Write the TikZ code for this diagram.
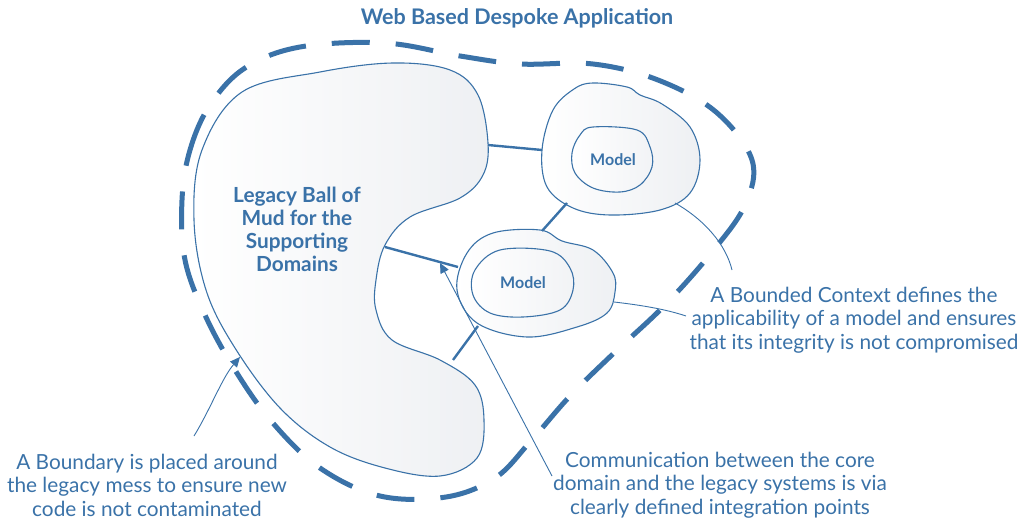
\documentclass[tikz,border=0pt]{standalone}
\usepackage{fontspec}
\setmainfont{Lato}
\usetikzlibrary{arrows.meta}
\definecolor{dblue}{HTML}{3A72A8}
\definecolor{fillr}{HTML}{EEF0F3}
\tikzset{
  blob/.style={draw=dblue, line width=1.1pt, left color=white, right color=fillr},
  inner/.style={draw=dblue, line width=1.1pt, left color=white, right color=fillr!80!white},
  boundary/.style={draw=dblue, line width=5pt, dash pattern=on 38pt off 26pt},
  link/.style={draw=dblue, line width=2.4pt},
  pointer/.style={draw=dblue, line width=0.9pt},
  tip/.style={-{Triangle[length=10pt,width=9pt]}},
  note/.style={text=dblue, align=center, font=\fontsize{20.8}{23.5}\selectfont},
  heading/.style={text=dblue, font=\bfseries\fontsize{21.5}{24}\selectfont},
  blobtext/.style={text=dblue, align=center, font=\bfseries\fontsize{20.8}{23}\selectfont},
  modeltext/.style={text=dblue, font=\bfseries\fontsize{16}{18}\selectfont},
}
\begin{document}
\begin{tikzpicture}[x=1pt,y=-1pt]
\useasboundingbox (0,0) rectangle (1025,521);

% legacy ball of mud
\path[blob] plot[smooth cycle, tension=0.6] coordinates {
  (242,92) (320,72) (393,63) (450,70) (478,95) (488,143) (483,175) (460,198)
  (410,217) (385,245) (376,280) (376,310) (392,340) (440,360) (475,385)
  (484,420) (477,458) (440,476) (385,468) (330,447) (280,408) (235,348)
  (206,290) (194,220) (202,150)};

% bounded context 1
\path[blob] plot[smooth cycle, tension=0.6] coordinates {
  (593,83) (627,87) (640,95) (662,104) (690,127) (700,160) (690,193) (660,210)
  (610,215) (573,208) (547,187) (542,150) (553,110) (574,89)};
\path[inner] plot[smooth cycle, tension=0.6] coordinates {
  (593,127) (637,130) (650,147) (652,167) (640,185) (620,192) (593,188)
  (575,173) (572,153) (580,135)};

% bounded context 2
\path[blob] plot[smooth cycle, tension=0.6] coordinates {
  (540,230) (562,241) (593,250) (613,273) (615,292) (607,313) (577,327)
  (527,337) (477,323) (457,290) (467,253) (493,233)};
\path[inner] plot[smooth cycle, tension=0.6] coordinates {
  (500,250) (550,251) (570,268) (573,290) (560,310) (523,317) (490,313)
  (473,295) (475,270)};

% anchor coordinates on shapes
\coordinate (mudR) at (488,145);
\coordinate (mudM) at (385,247);
\coordinate (mudB) at (453,360);
\coordinate (bc1L) at (542,150);
\coordinate (bc1B) at (567,203);
\coordinate (bc2T) at (542,231);
\coordinate (bc2L) at (458,267);
\coordinate (bc2B) at (478,326);
\coordinate (bc1R) at (675,203);
\coordinate (bc2R) at (614,302);

% integration links
\draw[link] (mudR) -- (bc1L);
\draw[link] (bc1B) -- (bc2T);
\draw[link] (mudM) -- (bc2L);
\draw[link] (mudB) -- (bc2B);

% texts
\node[heading] (title) at (517,18) {Web Based Despoke Application};
\node[blobtext] (mud) at (297,229) {Legacy Ball of\\Mud for the\\Supporting\\Domains};
\node[modeltext] (m1) at (613,160) {Model};
\node[modeltext] (m2) at (523,283) {Model};
\node[note] (bcnote) at (854,320) {A Bounded Context defines the\\applicability of a model and ensures\\that its integrity is not compromised};
\node[note] (bnote) at (147,485) {A Boundary is placed around\\the legacy mess to ensure new\\code is not contaminated};
\node[note] (cnote) at (720,485) {Communication between the core\\domain and the legacy systems is via\\clearly defined integration points};

% pointers
\coordinate (bcP1) at (732,270);
\coordinate (bcP2) at (686,316);
\coordinate (cP) at (552,476);
\coordinate (cTip) at (440,263);
\coordinate (bP) at (194,436);
\coordinate (bTip) at (240,357);
\draw[pointer] (bc1R) .. controls (705,220) and (726,245) .. (bcP1);
\draw[pointer] (bc2R) .. controls (640,305) and (665,309) .. (bcP2);
\draw[pointer, tip] (cP) -- (cTip);
\draw[pointer, tip] (bP) .. controls (210,410) and (222,378) .. (bTip);

% boundary
\draw[boundary] plot[smooth cycle, tension=0.6] coordinates {
  (182,200) (190,150) (210,105) (245,68) (300,47) (385,43) (460,56) (520,64)
  (593,64) (658,80) (716,112) (752,160) (745,205) (712,252) (665,305)
  (615,352) (570,396) (530,442) (495,478) (446,497) (380,496) (320,468)
  (272,422) (235,370) (205,315) (185,260)};
\end{tikzpicture}
\end{document}
